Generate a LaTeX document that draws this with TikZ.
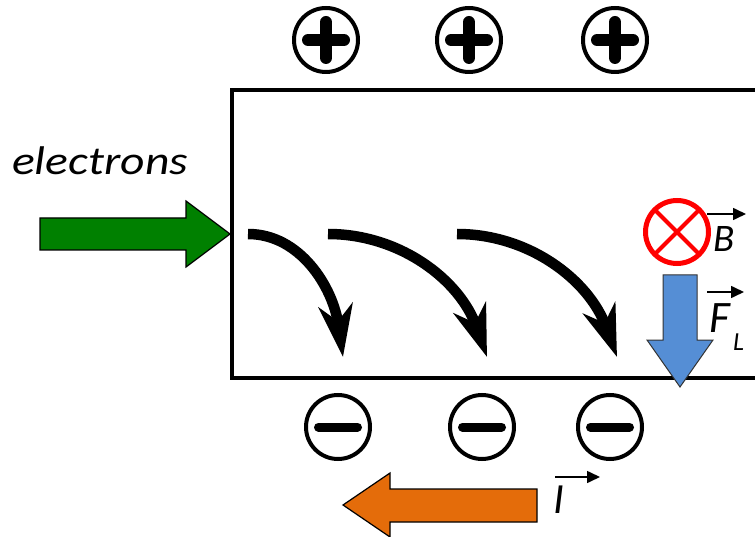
\documentclass[tikz,border=0pt]{standalone}
\usepackage{fontspec}
\setmainfont{Carlito}
\usetikzlibrary{arrows.meta}
\definecolor{egreen}{RGB}{0,128,0}
\definecolor{fblue}{RGB}{85,142,213}
\definecolor{iorange}{RGB}{228,108,10}
\begin{document}
\begin{tikzpicture}[x=1pt,y=-1pt,
  chargecirc/.style={circle, draw, line width=4pt, minimum size=64pt, inner sep=0pt},
  plusc/.style={chargecirc, path picture={
    \draw[line width=12pt,line cap=round] ([xshift=-18pt]path picture bounding box.center) -- ([xshift=18pt]path picture bounding box.center);
    \draw[line width=12pt,line cap=round] ([yshift=-18pt]path picture bounding box.center) -- ([yshift=18pt]path picture bounding box.center);}},
  minusc/.style={chargecirc, path picture={
    \draw[line width=9pt,line cap=round] ([xshift=-19.5pt]path picture bounding box.center) -- ([xshift=19.5pt]path picture bounding box.center);}},
  bfield/.style={circle, draw=red, line width=5pt, minimum size=63pt, inner sep=0pt, path picture={
    \draw[red,line width=4pt] ([shift={(-25pt,-25pt)}]path picture bounding box.center) -- ([shift={(25pt,25pt)}]path picture bounding box.center);
    \draw[red,line width=4pt] ([shift={(-25pt,25pt)}]path picture bounding box.center) -- ([shift={(25pt,-25pt)}]path picture bounding box.center);}},
  bendarrow/.style={line width=10.5pt, -{Stealth[length=52pt,width=34pt,inset=16pt]}},
  vecarrow/.style={line width=1.6pt, -{Triangle[length=13pt,width=12pt]}},
  bigarrow/.style={draw=black, line width=1.2pt, line join=miter},
  lbl/.style={inner sep=0pt, font=\itshape}
]
\useasboundingbox (0,0) rectangle (755,537);
\clip (0,0) rectangle (755,537);
\fill[white] (0,0) rectangle (755,537);

% conductor
\draw[line width=4.5pt] (770,90) -- (232,90) -- (232,378) -- (770,378);

% positive charges
\node[plusc] (p1) at (326,40) {};
\node[plusc] (p2) at (469,40) {};
\node[plusc] (p3) at (615,40) {};

% negative charges
\node[minusc] (m1) at (338,427) {};
\node[minusc] (m2) at (482,427) {};
\node[minusc] (m3) at (610,427) {};

% electrons label and arrow
\node[lbl, font=\itshape\fontsize{40}{40}\selectfont, anchor=base west] (el) at (12,175) {\scalebox{1.19}[1]{electrons}};
\draw[bigarrow, fill=egreen] (40,218) -- (186,218) -- (186,201) -- (230,234) -- (186,267) -- (186,250) -- (40,250) -- cycle;

% deflected paths
\draw[bendarrow] (248,234) .. controls (300,234) and (333,287) .. (343,357);
\draw[bendarrow] (328,234) .. controls (400,234) and (460,280) .. (487,357);
\draw[bendarrow] (457,234) .. controls (529,234) and (589,280) .. (617,357);

% magnetic field
\node[bfield] (bf) at (677,232) {};
\node[lbl, font=\itshape\fontsize{39}{39}\selectfont, anchor=base west] (b) at (713,252) {B};
\coordinate (bs) at (707,214);
\coordinate (be) at (746,214);
\draw[vecarrow] (bs) -- (be);

% Lorentz force
\draw[bigarrow, draw=black!80, line width=1pt, fill=fblue] (663,275) -- (697,275) -- (697,340) -- (713,340) -- (680,387) -- (647,340) -- (663,340) -- cycle;
\node[lbl, font=\itshape\fontsize{45}{45}\selectfont, anchor=base west] (f) at (709,332) {F};
\node[lbl, font=\itshape\fontsize{26}{26}\selectfont, anchor=base west] (l) at (733,350) {L};
\coordinate (fs) at (707,292);
\coordinate (fe) at (744,292);
\draw[vecarrow] (fs) -- (fe);

% current
\draw[bigarrow, fill=iorange] (537,489) -- (390,489) -- (390,473) -- (343,505) -- (390,537) -- (390,522) -- (537,522) -- cycle;
\node[lbl, font=\itshape\fontsize{43}{43}\selectfont, anchor=base west] (i) at (553,513) {I};
\coordinate (is) at (555,477);
\coordinate (ie) at (600,477);
\draw[vecarrow] (is) -- (ie);
\end{tikzpicture}
\end{document}
